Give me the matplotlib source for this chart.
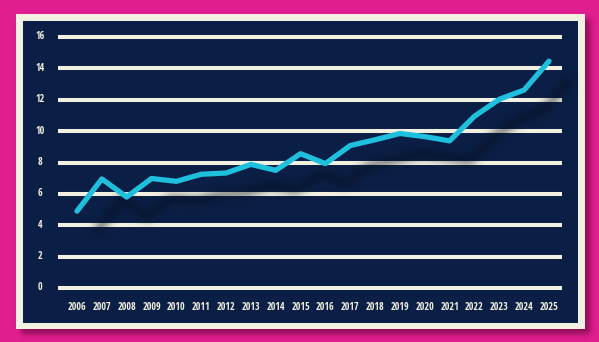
import numpy as np
import matplotlib
matplotlib.use("Agg")
import matplotlib.pyplot as plt
from matplotlib.patches import Rectangle
from matplotlib import transforms

years = [2006, 2007, 2008, 2009, 2010, 2011, 2012, 2013, 2014, 2015,
         2016, 2017, 2018, 2019, 2020, 2021, 2022, 2023, 2024, 2025]
values = [4.9, 6.95, 5.8, 6.98, 6.8, 7.25, 7.33, 7.88, 7.5, 8.56,
          7.93, 9.08, 9.45, 9.85, 9.65, 9.38, 10.95, 12.03, 12.62, 14.46]
y_ticks = [0, 2, 4, 6, 8, 10, 12, 14, 16]

MAGENTA = "#E01E90"
CREAM = "#F1F0E1"
NAVY = "#0B1F46"
CYAN = "#1FC0DD"

W, H = 599, 342
DPI = 100


def gblur(a, sigma):
    r = int(3 * sigma)
    k = np.exp(-0.5 * (np.arange(-r, r + 1) / sigma) ** 2)
    k /= k.sum()
    a = np.apply_along_axis(lambda v: np.convolve(v, k, mode="same"), 0, a)
    a = np.apply_along_axis(lambda v: np.convolve(v, k, mode="same"), 1, a)
    return a


class Shadow:
    def __init__(self, sigma, alpha, color):
        self.sigma = sigma
        self.alpha = alpha
        self.color = matplotlib.colors.to_rgb(color)

    def __call__(self, im, dpi):
        pad = int(3 * self.sigma) + 2
        a = np.pad(im[:, :, 3], pad)
        a = np.clip(gblur(a, self.sigma) * self.alpha, 0, 1)
        out = np.zeros(a.shape + (4,))
        out[..., :3] = self.color
        out[..., 3] = a
        return out, -pad, -pad


fig = plt.figure(figsize=(W / DPI, H / DPI), dpi=DPI, facecolor=MAGENTA)


def fx(px):
    return px / W


def fy(py):
    return 1 - py / H


# panel shadow
ps = Rectangle((fx(16 + 5), fy(329 + 5)), fx(585 - 16), (329 - 14) / H,
               transform=fig.transFigure, facecolor="#3a0020", edgecolor="none",
               zorder=0.5)
ps.set_agg_filter(Shadow(3, 0.55, "#4a0028"))
fig.add_artist(ps)
# cream panel
fig.add_artist(Rectangle((fx(16), fy(329)), fx(585 - 16), (329 - 14) / H,
                         transform=fig.transFigure, facecolor=CREAM,
                         edgecolor="none", zorder=1))

# navy axes
ax = fig.add_axes([fx(23), fy(323), fx(578 - 23), (323 - 21) / H])
ax.set_zorder(5)
ax.set_facecolor(NAVY)
for s in ax.spines.values():
    s.set_visible(False)
ax.set_xticks([])
ax.set_yticks([])

pxx = (549 - 77) / (years[-1] - years[0])
x0 = years[0] - (77 - 23) / pxx
x1 = years[-1] + (578 - 549) / pxx
ax.set_xlim(x0, x1)
pxy = (288 - 37) / 16
ax.set_ylim(-(323 - 288) / pxy, 16 + (37 - 21) / pxy)

gx0 = years[0] - (77 - 58) / pxx
gx1 = years[-1] + (562 - 549) / pxx
ax.hlines(y_ticks, gx0, gx1, colors=CREAM, linewidth=2.9, zorder=1,
          capstyle="butt")

font = dict(family=["Liberation Sans Narrow", "Open Sans Condensed",
                    "Roboto Condensed", "Liberation Sans"],
            stretch="condensed", weight="bold", size=7.2, color=CREAM)

ytr = transforms.blended_transform_factory(ax.transAxes, ax.transData)
for t in y_ticks:
    ax.text((40 - 23) / (578 - 23), t, str(t), transform=ytr,
            ha="center", va="center", **font)
xtr = transforms.blended_transform_factory(ax.transData, ax.transAxes)
for yv in years:
    ax.text(yv, (323 - 307) / (323 - 21), str(yv), transform=xtr,
            ha="center", va="center", **font)

# line shadow
off = transforms.offset_copy(ax.transData, fig=fig, x=20, y=-20, units="dots")
sh, = ax.plot(years, values, color="black", linewidth=3.8, transform=off,
              solid_capstyle="round", solid_joinstyle="round", zorder=2)
sh.set_agg_filter(Shadow(4.5, 0.85, "#050c1c"))

ax.plot(years, values, color=CYAN, linewidth=3.8, solid_capstyle="round",
        solid_joinstyle="round", zorder=3)

fig.savefig("out.png", dpi=DPI, facecolor=MAGENTA)
